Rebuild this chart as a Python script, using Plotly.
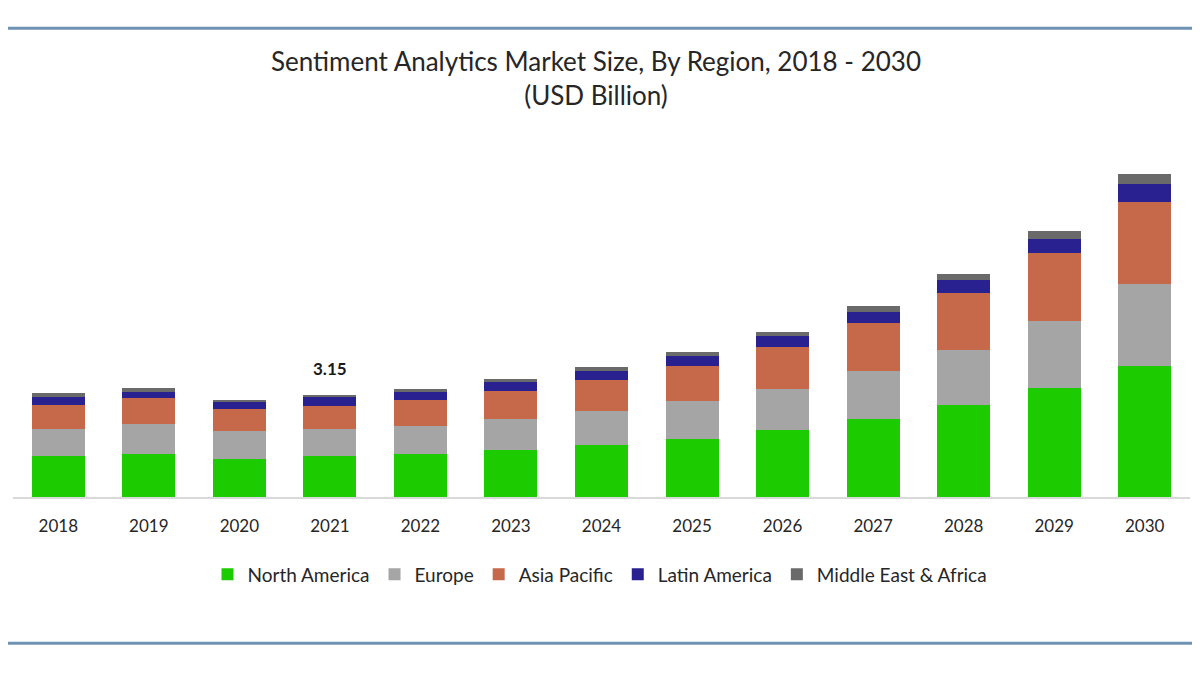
import plotly.graph_objects as go

years = ["2018", "2019", "2020", "2021", "2022", "2023", "2024", "2025", "2026", "2027", "2028", "2029", "2030"]
north_america = [1.25, 1.34, 1.17, 1.25, 1.31, 1.46, 1.60, 1.78, 2.07, 2.40, 2.82, 3.35, 4.05]
europe =        [0.85, 0.90, 0.85, 0.85, 0.89, 0.95, 1.04, 1.19, 1.27, 1.47, 1.70, 2.06, 2.50]
asia_pacific =  [0.74, 0.80, 0.69, 0.71, 0.80, 0.87, 0.98, 1.08, 1.27, 1.50, 1.78, 2.11, 2.54]
latin_america = [0.24, 0.19, 0.22, 0.27, 0.24, 0.26, 0.26, 0.29, 0.34, 0.34, 0.39, 0.44, 0.57]
mea =           [0.12, 0.14, 0.07, 0.07, 0.10, 0.09, 0.12, 0.14, 0.14, 0.19, 0.18, 0.24, 0.28]

series = [
    ("North America", north_america, "#1CCB00"),
    ("Europe", europe, "#A5A5A5"),
    ("Asia Pacific", asia_pacific, "#C6684A"),
    ("Latin America", latin_america, "#29218F"),
    ("Middle East & Africa", mea, "#6A6A6A"),
]

label_year = "2021"
label_text = "3.15"

fig = go.Figure()
for name, vals, col in series:
    fig.add_trace(go.Bar(x=years, y=vals, name=name, marker=dict(color=col, line=dict(width=0)),
                         width=0.585))

# page body has an 8px margin: draw the figure 8px smaller and shift coordinates
OFF = 8
W, H = 1200 - OFF, 675 - OFF
L, R = 13 - OFF, 10
T = 150 - OFF
BASE = 497.5 - OFF
B = H - BASE
pw, ph = W - L - R, H - T - B
PX_PER_UNIT = 32.5

def py_paper(py):  # py in screen pixels
    return 1 - (py - OFF - T) / ph

def px_paper(px):
    return (px - OFF - L) / pw

totals = [sum(v) for v in zip(north_america, europe, asia_pacific, latin_america, mea)]
idx = years.index(label_year)
fig.add_annotation(x=idx, y=totals[idx], xref="x", yref="y",
                   text="<b>" + label_text + "</b>", showarrow=False,
                   yanchor="bottom", yshift=14, font=dict(family="Lato", size=17, color="#1a1a1a"))

for py in (28, 644):
    fig.add_shape(type="line", xref="paper", yref="paper",
                  x0=px_paper(0), x1=px_paper(1200),
                  y0=py_paper(py), y1=py_paper(py),
                  line=dict(color="#6F93B3", width=3))

fig.update_layout(
    width=W, height=H,
    margin=dict(l=L, r=R, t=T, b=B),
    barmode="stack",
    plot_bgcolor="white", paper_bgcolor="white",
    title=dict(text="Sentiment Analytics Market Size, By Region, 2018 - 2030<br>(USD Billion)",
               x=(596 - OFF) / W, xanchor="center", xref="container",
               y=1 - (71 - OFF) / H, yanchor="middle",
               font=dict(family="Lato", size=26, color="#262626")),
    legend=dict(orientation="h", x=px_paper(600), xanchor="center",
                y=py_paper(575), yanchor="middle",
                font=dict(family="Lato", size=19, color="#262626"),
                traceorder="normal", itemwidth=30),
    xaxis=dict(type="category", showline=True, linecolor="#D9D9D9", linewidth=1.5, showgrid=False,
               tickfont=dict(family="Lato", size=17, color="#262626"),
               ticks="", ticklabelstandoff=13, range=[-0.5, 12.5]),
    yaxis=dict(showticklabels=False, showgrid=False, showline=False, zeroline=False,
               ticks="", range=[0, ph / PX_PER_UNIT]),
    showlegend=True,
)

fig.write_html("out.html")
